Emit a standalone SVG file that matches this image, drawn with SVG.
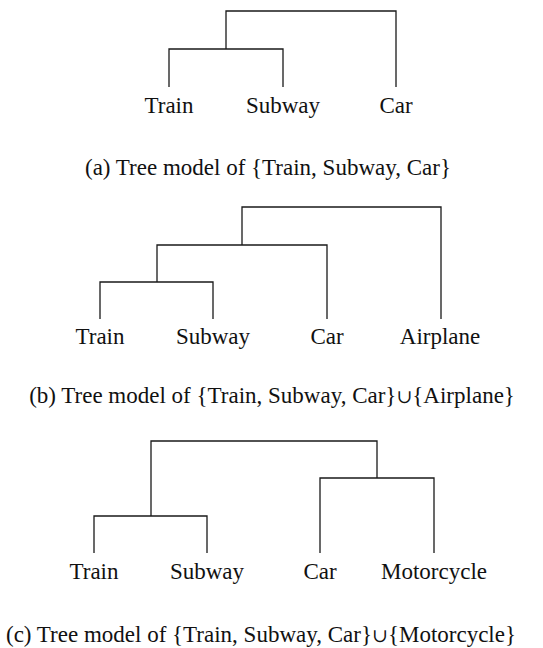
<svg xmlns="http://www.w3.org/2000/svg" width="543" height="648" viewBox="0 0 543 648">
  <style>
    .edge { fill: none; stroke: #1a1a1a; stroke-width: 1.3; }
    .lbl { font-family: "Liberation Serif", "Times New Roman", serif; font-size: 23px; fill: #111; text-anchor: middle; }
    .cap { font-family: "Liberation Serif", "Times New Roman", "DejaVu Serif", serif; font-size: 23px; fill: #111; text-anchor: middle; }
    .cup { font-size: 19px; }
  </style>
  <rect width="543" height="648" fill="#fff"/>

  <!-- (a) three-leaf tree -->
  <g id="tree-a">
    <g id="a-connectors">
      <path class="edge" d="M226,49 V11 H396 V87"/>
      <path class="edge" d="M169,87 V49 H283 V87"/>
    </g>
    <g id="a-train"><text class="lbl" x="169" y="112.5">Train</text></g>
    <g id="a-subway"><text class="lbl" x="283" y="112.5">Subway</text></g>
    <g id="a-car"><text class="lbl" x="396" y="112.5">Car</text></g>
    <text class="cap" x="268" y="175">(a) Tree model of {Train, Subway, Car}</text>
  </g>

  <!-- (b) tree with Airplane added -->
  <g id="tree-b">
    <g id="b-connectors">
      <path class="edge" d="M242,245 V207 H441 V319"/>
      <path class="edge" d="M157,282 V245 H327 V319"/>
      <path class="edge" d="M100,319 V282 H213 V319"/>
    </g>
    <g id="b-train"><text class="lbl" x="100" y="344">Train</text></g>
    <g id="b-subway"><text class="lbl" x="213" y="344">Subway</text></g>
    <g id="b-car"><text class="lbl" x="327" y="344">Car</text></g>
    <g id="b-airplane"><text class="lbl" x="440" y="344">Airplane</text></g>
    <text class="cap" x="272" y="403">(b) Tree model of {Train, Subway, Car}<tspan class="cup">∪</tspan>{Airplane}</text>
  </g>

  <!-- (c) tree with Motorcycle added -->
  <g id="tree-c">
    <g id="c-connectors">
      <path class="edge" d="M151,516 V441 H377 V478"/>
      <path class="edge" d="M94,553 V516 H207 V553"/>
      <path class="edge" d="M320,553 V478 H434 V553"/>
    </g>
    <g id="c-train"><text class="lbl" x="94" y="579">Train</text></g>
    <g id="c-subway"><text class="lbl" x="207" y="579">Subway</text></g>
    <g id="c-car"><text class="lbl" x="320" y="579">Car</text></g>
    <g id="c-motorcycle"><text class="lbl" x="434" y="579">Motorcycle</text></g>
    <text class="cap" x="261" y="642">(c) Tree model of {Train, Subway, Car}<tspan class="cup">∪</tspan>{Motorcycle}</text>
  </g>
</svg>
